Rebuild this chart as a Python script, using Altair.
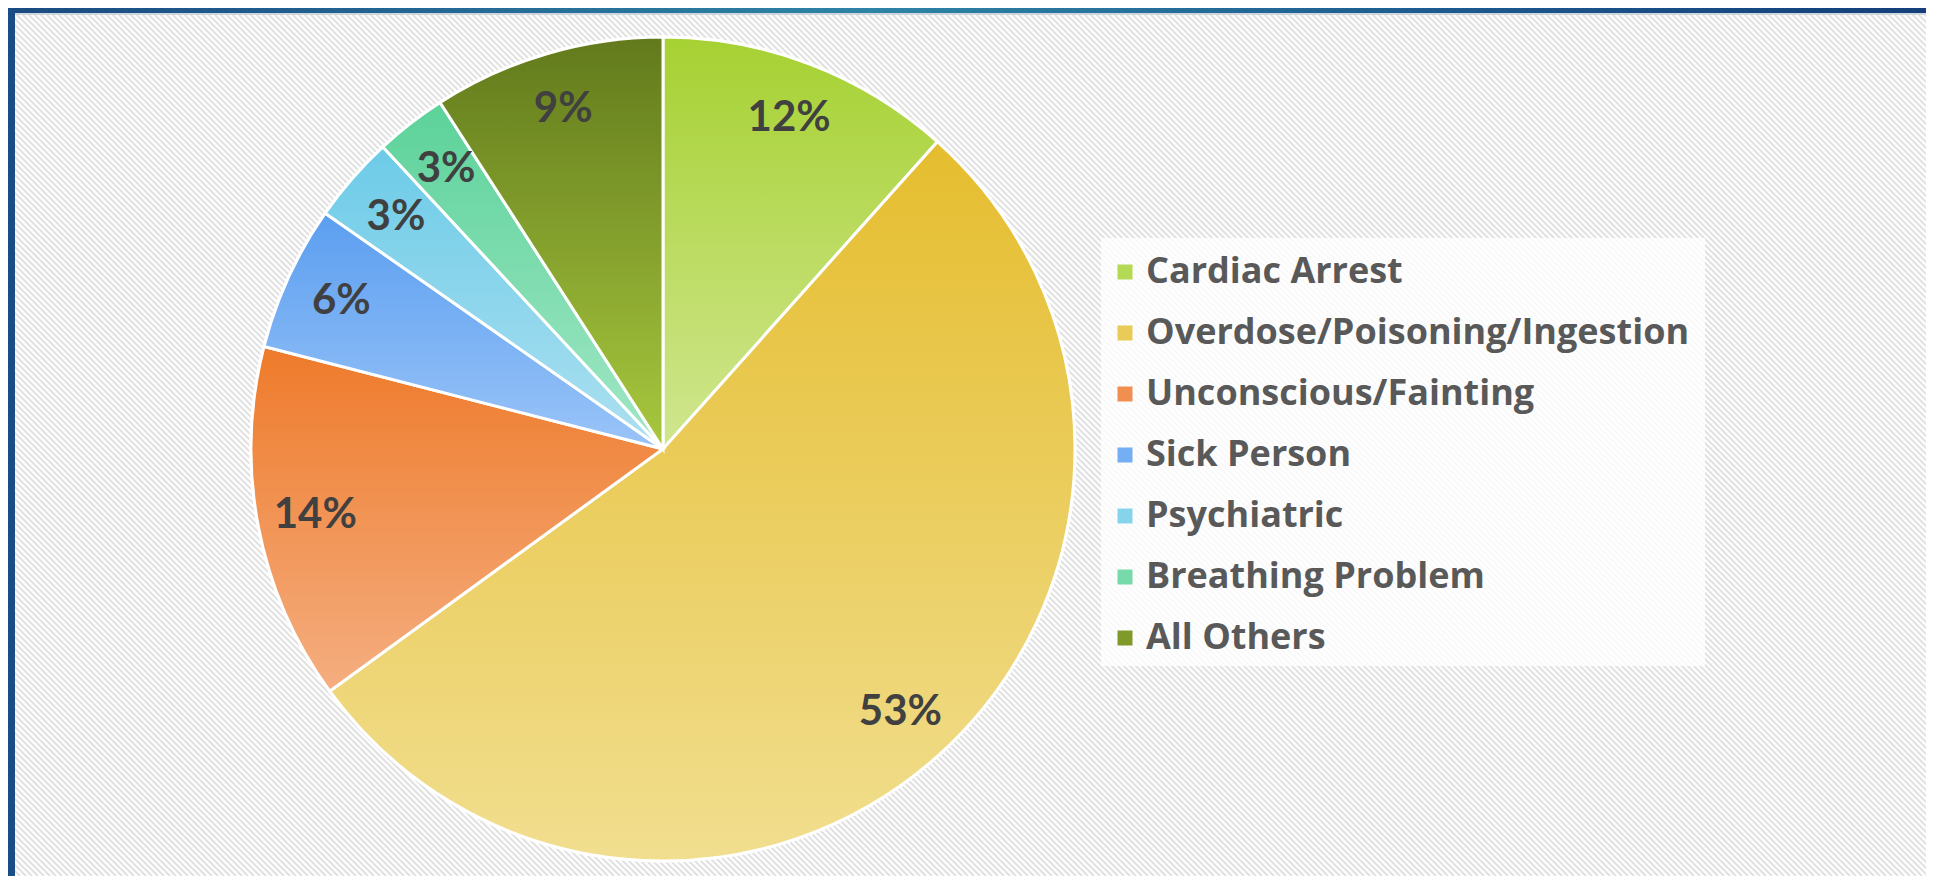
import math
import altair as alt
import pandas as pd

# ---- data ----
categories = ["Cardiac Arrest", "Overdose/Poisoning/Ingestion", "Unconscious/Fainting",
              "Sick Person", "Psychiatric", "Breathing Problem", "All Others"]
shares = [11.6, 53.4, 14.0, 5.7, 3.4, 2.8, 9.1]
labels = ["12%", "53%", "14%", "6%", "3%", "3%", "9%"]
top_colors = ["#a6d132", "#e5bd2e", "#ee7a2a", "#5b9ef0", "#6ccbe8", "#5cd29a", "#627a1c"]
bottom_colors = ["#d0e68f", "#f1de8f", "#f5ae80", "#9ac4f8", "#ade0f0", "#a2e7c6", "#a8c83e"]
legend_colors = ["#b4d955", "#e9cb58", "#f18f50", "#74aef3", "#86d4ec", "#76daab", "#7f9a2a"]

df = pd.DataFrame({"category": categories, "share": shares, "label": labels,
                   "order": list(range(len(categories)))})

W, H = 1918, 868
CX, CY, R = 655, 441, 412
LABEL_R = 354

theta_scale = alt.Scale(domain=[0, 100], range=[0, 2 * math.pi])

base = alt.Chart(df).transform_window(
    cum="sum(share)", sort=[alt.SortField("order")], frame=[None, 0]
).transform_calculate(
    start="datum.cum - datum.share",
    mid="datum.cum - datum.share / 2",
)

# ---- background hatch (decoration) ----
hatch = alt.Chart(alt.sequence(start=-H, stop=W, step=6, as_="x0")).transform_calculate(
    x1="datum.x0 + %d" % H, ytop="%d" % H, ybot="0"
).mark_rule(color="#e2e2e2", strokeWidth=2.2, clip=True).encode(
    x=alt.X("x0:Q", scale=alt.Scale(domain=[0, W], nice=False, zero=False), axis=None),
    x2="x1:Q",
    y=alt.Y("ytop:Q", scale=alt.Scale(domain=[0, H], nice=False), axis=None),
    y2="ybot:Q",
)

one = alt.Data(values=[{"k": 1}])
top_bar = alt.Chart(one).mark_rect(
    fill=alt.Gradient(gradient="linear", x1=0, x2=1, y1=0, y2=0, stops=[
        alt.GradientStop(color="#1a4b82", offset=0),
        alt.GradientStop(color="#2e84a6", offset=0.45),
        alt.GradientStop(color="#1d5a8e", offset=0.75),
        alt.GradientStop(color="#143f7a", offset=1)])
).encode(x=alt.value(0), x2=alt.value(W), y=alt.value(0), y2=alt.value(5))
top_line = alt.Chart(one).mark_rect(fill="#cfd6dc").encode(
    x=alt.value(0), x2=alt.value(W), y=alt.value(5), y2=alt.value(7))
left_bar = alt.Chart(one).mark_rect(fill="#1a4d84").encode(
    x=alt.value(0), x2=alt.value(7), y=alt.value(0), y2=alt.value(H))

legend_box = alt.Chart(one).mark_rect(fill="white", opacity=0.8).encode(
    x=alt.value(1093), x2=alt.value(1697), y=alt.value(230), y2=alt.value(658))

theta_enc = alt.Theta("start:Q", scale=theta_scale, stack=None)

base_arcs = base.mark_arc(radius=R, stroke="white", strokeWidth=3).encode(
    theta=theta_enc,
    theta2="cum:Q",
    color=alt.Color("category:N",
                    scale=alt.Scale(domain=categories, range=legend_colors),
                    legend=alt.Legend(title=None, orient="none", legendX=1099, legendY=246,
                                      symbolType="square", symbolSize=225,
                                      symbolStrokeWidth=0, labelFont="Open Sans",
                                      labelFontSize=36, labelFontWeight="bold",
                                      labelColor="#595959", labelOffset=3,
                                      rowPadding=25, padding=0, labelLimit=800)),
    x=alt.value(CX), y=alt.value(CY),
)

grad_layers = []
for i, cat in enumerate(categories):
    grad = alt.Gradient(gradient="linear", x1=0, x2=0, y1=0, y2=1, stops=[
        alt.GradientStop(color=top_colors[i], offset=0),
        alt.GradientStop(color=bottom_colors[i], offset=1)])
    grad_layers.append(
        base.transform_filter(alt.datum.order == i).mark_arc(
            radius=R, fill=grad, stroke="white", strokeWidth=3
        ).encode(theta=theta_enc, theta2="cum:Q", x=alt.value(CX), y=alt.value(CY))
    )

text = base.mark_text(radius=LABEL_R, font="Lato", fontSize=42, fontWeight="bold",
                      color="#404040", align="center", baseline="middle").encode(
    theta=alt.Theta("mid:Q", scale=theta_scale, stack=None),
    text="label:N",
    x=alt.value(CX), y=alt.value(CY),
)

chart = alt.layer(hatch, top_bar, top_line, left_bar, legend_box, base_arcs,
                  *grad_layers, text).properties(
    width=W, height=H, padding=0, background="white",
    autosize=alt.AutoSizeParams(type="none"),
).configure_view(stroke=None)

chart.save("out.html", embed_options={"renderer": "svg", "actions": False})
